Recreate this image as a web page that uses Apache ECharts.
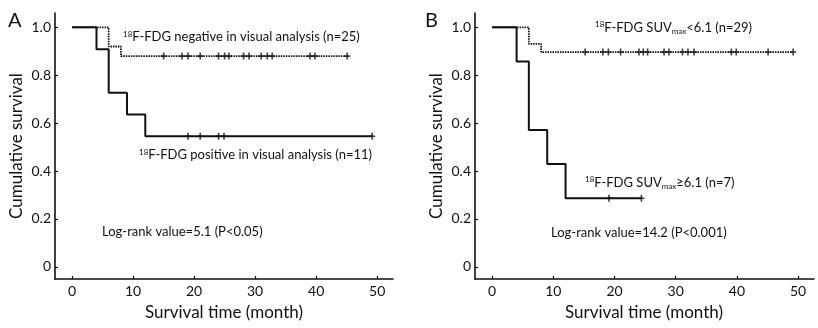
<!DOCTYPE html>
<html>
<head>
<meta charset="utf-8">
<script src="https://cdn.jsdelivr.net/npm/echarts@6/dist/echarts.min.js"></script>
<style>
html,body{margin:0;padding:0;background:#fff;}
#c{width:818px;height:328px;}
</style>
</head>
<body>
<div id="c"></div>
<script>
// ---- data ----
const xTicks = [0, 10, 20, 30, 40, 50];
const yTicks = [0, 0.2, 0.4, 0.6, 0.8, 1.0];

// Panel A
const aNegTime = [0, 6, 8, 45.1];
const aNegSurv = [1.0, 0.92, 0.88, 0.88];
const aNegCensor = [15, 18, 19, 21, 24, 25, 25.7, 28.1, 29, 31, 32, 32.8, 39, 39.8, 45.1];
const aPosTime = [0, 4, 6, 9, 12, 49.2];
const aPosSurv = [1.0, 0.909, 0.727, 0.636, 0.545, 0.545];
const aPosCensor = [19, 21, 24, 24.9, 49.2];

// Panel B
const bLowTime = [0, 6, 8, 49.2];
const bLowSurv = [1.0, 0.931, 0.897, 0.897];
const bLowCensor = [15.2, 18.1, 19, 21, 24, 24.7, 25.4, 28.1, 28.9, 31.1, 32, 33, 39.1, 39.9, 45.1, 49.2];
const bHighTime = [0, 4, 6, 9, 12, 24.4];
const bHighSurv = [1.0, 0.857, 0.571, 0.429, 0.286, 0.286];
const bHighCensor = [19.1, 24.4];

// ---- helpers ----
function pairs(t, s) { return t.map((v, i) => [v, s[i]]); }
function stepAt(t, s, x) { let v = s[0]; for (let i = 0; i < t.length; i++) { if (t[i] <= x) v = s[i]; } return v; }
function censorPts(t, s, c) { return c.map(x => [x, stepAt(t, s, x)]); }

const FONT = 'Lato';
const INK = '#111';
const PLUS = 'path://M2.2,0H3.8V2.7H6V4.3H3.8V7H2.2V4.3H0V2.7H2.2Z';

function xAxisCfg(idx) {
  return {
    type: 'value', gridIndex: idx, min: -2.8, max: 52.6,
    axisLine: { show: true, onZero: false, lineStyle: { color: INK, width: 1.6 } },
    axisTick: { show: true, inside: true, length: 3, customValues: xTicks, lineStyle: { color: INK, width: 1.2 } },
    axisLabel: { customValues: xTicks, margin: 5, color: INK, fontFamily: FONT, fontSize: 14 },
    splitLine: { show: false }
  };
}
function yAxisCfg(idx) {
  return {
    type: 'value', gridIndex: idx, min: -0.051, max: 1.06,
    axisLine: { show: true, onZero: false, lineStyle: { color: INK, width: 1.6 } },
    axisTick: { show: true, inside: true, length: 3, customValues: yTicks, lineStyle: { color: INK, width: 1.2 } },
    axisLabel: { customValues: yTicks, margin: 4, color: INK, fontFamily: FONT, fontSize: 14,
      formatter: v => (v === 0 ? '0' : v.toFixed(1)) },
    splitLine: { show: false }
  };
}

function lineSeries(idx, data, dotted) {
  return {
    type: 'line', xAxisIndex: idx, yAxisIndex: idx, data: data, step: 'end',
    symbol: 'none', silent: true, animation: false,
    lineStyle: dotted ? { color: INK, width: 1.8, type: [1.5, 1] } : { color: INK, width: 2 }
  };
}
function censorSeries(idx, data) {
  return {
    type: 'scatter', xAxisIndex: idx, yAxisIndex: idx, data: data,
    symbol: PLUS, symbolSize: [6, 7], itemStyle: { color: INK }, silent: true, animation: false, z: 5
  };
}

const rich = {
  m: { fontFamily: FONT, fontSize: 13, fill: INK, color: INK },
  sup: { fontFamily: FONT, fontSize: 8, fill: INK, color: INK, verticalAlign: 'top', padding: [0, 0, 6, 0] },
  sub: { fontFamily: FONT, fontSize: 8, fill: INK, color: INK, verticalAlign: 'bottom', padding: [7, 0, 0, 0] }
};
function ann(x, y, text) {
  return { type: 'text', x: x, y: y, silent: true,
    style: { text: text, rich: rich, fill: INK, font: '13px ' + FONT, verticalAlign: 'middle', align: 'left' } };
}

const chart = echarts.init(document.getElementById('c'), null, { renderer: 'canvas' });
chart.setOption({
  backgroundColor: '#fff',
  animation: false,
  grid: [
    { left: 55, top: 13, width: 338, height: 266 },
    { left: 475, top: 13, width: 339, height: 266 }
  ],
  xAxis: [xAxisCfg(0), xAxisCfg(1)],
  yAxis: [yAxisCfg(0), yAxisCfg(1)],
  series: [
    lineSeries(0, pairs(aNegTime, aNegSurv), true),
    lineSeries(0, pairs(aPosTime, aPosSurv), false),
    censorSeries(0, censorPts(aNegTime, aNegSurv, aNegCensor)),
    censorSeries(0, censorPts(aPosTime, aPosSurv, aPosCensor)),
    lineSeries(1, pairs(bLowTime, bLowSurv), true),
    lineSeries(1, pairs(bHighTime, bHighSurv), false),
    censorSeries(1, censorPts(bLowTime, bLowSurv, bLowCensor)),
    censorSeries(1, censorPts(bHighTime, bHighSurv, bHighCensor))
  ],
  graphic: [
    { type: 'text', x: 8, y: 21, silent: true, style: { text: 'A', font: '20px ' + FONT, fill: INK, verticalAlign: 'middle' } },
    { type: 'text', x: 425, y: 21, silent: true, style: { text: 'B', font: '20px ' + FONT, fill: INK, verticalAlign: 'middle' } },
    { type: 'text', x: 17, y: 146, rotation: Math.PI / 2, silent: true,
      style: { text: 'Cumulative survival', font: '17px ' + FONT, fill: INK, align: 'center', verticalAlign: 'middle' } },
    { type: 'text', x: 437, y: 146, rotation: Math.PI / 2, silent: true,
      style: { text: 'Cumulative survival', font: '17px ' + FONT, fill: INK, align: 'center', verticalAlign: 'middle' } },
    { type: 'text', x: 224, y: 313, silent: true,
      style: { text: 'Survival time (month)', font: '17px ' + FONT, fill: INK, align: 'center', verticalAlign: 'middle' } },
    { type: 'text', x: 644, y: 313, silent: true,
      style: { text: 'Survival time (month)', font: '17px ' + FONT, fill: INK, align: 'center', verticalAlign: 'middle' } },
    ann(123, 37, '{sup|18}{m|F-FDG negative in visual analysis (n=25)}'),
    ann(139, 155, '{sup|18}{m|F-FDG positive in visual analysis (n=11)}'),
    ann(102, 232, '{m|Log-rank value=5.1 (P<0.05)}'),
    ann(595, 28, '{sup|18}{m|F-FDG SUV}{sub|max}{m|<6.1 (n=29)}'),
    ann(585, 183, '{sup|18}{m|F-FDG SUV}{sub|max}{m|≥6.1 (n=7)}'),
    ann(551, 233, '{m|Log-rank value=14.2 (P<0.001)}')
  ]
});
</script>
</body>
</html>
